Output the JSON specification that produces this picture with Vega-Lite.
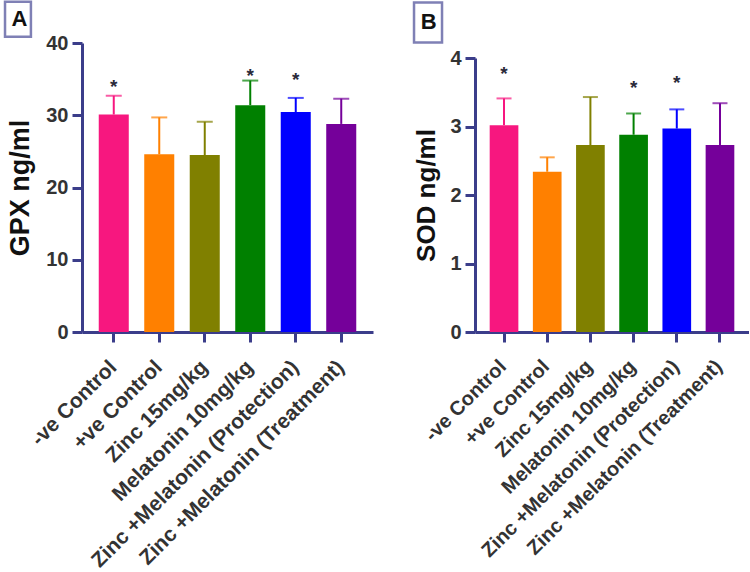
{
  "$schema": "https://vega.github.io/schema/vega-lite/v6.json",
  "padding": {"left": 0, "top": -4, "right": 0, "bottom": 0},
  "spacing": 36,
  "align": "none",
  "background": "white",
  "config": {
    "view": {"stroke": null},
    "font": "Liberation Sans",
    "axis": {
      "grid": false,
      "domainColor": "#3b3d8a",
      "tickColor": "#3b3d8a",
      "domainWidth": 3,
      "tickWidth": 3,
      "tickSize": 10,
      "labelFont": "Liberation Sans",
      "labelFontWeight": "bold",
      "labelColor": "#333333",
      "labelLimit": 0,
      "titleFont": "Liberation Sans",
      "titleFontWeight": "bold",
      "titleColor": "#111111"
    }
  },
  "datasets": {
    "gpx": [
      {"group": "-ve Control", "mean": 30.1, "upper": 32.7, "star": 33.9},
      {"group": "+ve Control", "mean": 24.6, "upper": 29.7, "star": null},
      {"group": "Zinc 15mg/kg", "mean": 24.5, "upper": 29.1, "star": null},
      {"group": "Melatonin 10mg/kg", "mean": 31.4, "upper": 34.8, "star": 35.5},
      {"group": "Zinc +Melatonin (Protection)", "mean": 30.45, "upper": 32.4, "star": 34.9},
      {"group": "Zinc +Melatonin (Treatment)", "mean": 28.8, "upper": 32.3, "star": null}
    ],
    "sod": [
      {"group": "-ve Control", "mean": 3.02, "upper": 3.41, "star": 3.76},
      {"group": "+ve Control", "mean": 2.34, "upper": 2.55, "star": null},
      {"group": "Zinc 15mg/kg", "mean": 2.73, "upper": 3.43, "star": null},
      {"group": "Melatonin 10mg/kg", "mean": 2.88, "upper": 3.19, "star": 3.56},
      {"group": "Zinc +Melatonin (Protection)", "mean": 2.97, "upper": 3.25, "star": 3.64},
      {"group": "Zinc +Melatonin (Treatment)", "mean": 2.73, "upper": 3.34, "star": null}
    ],
    "labelA": [{"label": "A", "group": "-ve Control", "pos": 43.3}],
    "labelB": [{"label": "B", "group": "-ve Control", "pos": 4.52}]
  },
  "hconcat": [
    {
      "width": 291,
      "height": 289,
      "encoding": {
        "x": {
          "field": "group", "type": "nominal", "sort": null,
          "scale": {"paddingInner": 0.34, "paddingOuter": 0.368},
          "axis": {"title": null, "labelAngle": -45, "labelFontSize": 21, "labelPadding": 14, "labelOffset": -8}
        }
      },
      "layer": [
        {
          "data": {"name": "gpx"},
          "mark": {"type": "bar"},
          "encoding": {
            "y": {"field": "mean", "type": "quantitative", "scale": {"domain": [0, 40]},
                  "axis": {"title": "GPX ng/ml", "values": [0, 10, 20, 30, 40], "format": "d", "labelFontSize": 20, "titleFontSize": 27, "titlePadding": 11, "labelPadding": 4}},
            "color": {"field": "group", "type": "nominal", "sort": null, "legend": null,
              "scale": {"domain": ["-ve Control", "+ve Control", "Zinc 15mg/kg", "Melatonin 10mg/kg", "Zinc +Melatonin (Protection)", "Zinc +Melatonin (Treatment)"],
                        "range": ["#f7177f", "#ff8000", "#808000", "#008000", "#0000ff", "#75009a"]}}
          }
        },
        {
          "data": {"name": "gpx"},
          "mark": {"type": "rule", "strokeWidth": 2},
          "encoding": {
            "y": {"field": "mean", "type": "quantitative"},
            "y2": {"field": "upper"},
            "color": {"field": "group", "type": "nominal", "sort": null, "legend": null}
          }
        },
        {
          "data": {"name": "gpx"},
          "mark": {"type": "tick", "thickness": 2, "size": 16},
          "encoding": {
            "y": {"field": "upper", "type": "quantitative"},
            "color": {"field": "group", "type": "nominal", "sort": null, "legend": null}
          }
        },
        {
          "data": {"name": "gpx"},
          "transform": [{"filter": "datum.star != null"}],
          "mark": {"type": "text", "text": "*", "fontSize": 19, "fontWeight": "bold", "color": "#2a2a3a", "baseline": "middle"},
          "encoding": {
            "y": {"field": "star", "type": "quantitative"}
          }
        },
        {
          "data": {"name": "labelA"},
          "mark": {"type": "point", "shape": "M-0.74,-1H0.74V1H-0.74Z", "filled": false, "stroke": "#7f80b5", "strokeWidth": 2.5, "size": 1225, "opacity": 1},
          "encoding": {
            "x": {"field": "group", "type": "nominal", "bandPosition": -2.69},
            "y": {"field": "pos", "type": "quantitative"}
          }
        },
        {
          "data": {"name": "labelA"},
          "mark": {"type": "text", "fontSize": 22, "fontWeight": "bold", "color": "#111111", "baseline": "middle", "align": "center"},
          "encoding": {
            "x": {"field": "group", "type": "nominal", "bandPosition": -2.64},
            "y": {"field": "pos", "type": "quantitative"},
            "text": {"field": "label"}
          }
        }
      ]
    },
    {
      "width": 274,
      "height": 289,
      "encoding": {
        "x": {
          "field": "group", "type": "nominal", "sort": null,
          "scale": {"paddingInner": 0.336, "paddingOuter": 0.34},
          "axis": {"title": null, "labelAngle": -45, "labelFontSize": 20, "labelPadding": 14, "labelOffset": -8}
        }
      },
      "layer": [
        {
          "data": {"name": "sod"},
          "mark": {"type": "bar"},
          "encoding": {
            "y": {"field": "mean", "type": "quantitative", "scale": {"domain": [0, 4], "range": [289, 15]},
                  "axis": {"title": "SOD ng/ml", "values": [0, 1, 2, 3, 4], "format": "d", "labelFontSize": 20, "titleFontSize": 26, "titlePadding": 10, "labelPadding": 4}},
            "color": {"field": "group", "type": "nominal", "sort": null, "legend": null,
              "scale": {"domain": ["-ve Control", "+ve Control", "Zinc 15mg/kg", "Melatonin 10mg/kg", "Zinc +Melatonin (Protection)", "Zinc +Melatonin (Treatment)"],
                        "range": ["#f7177f", "#ff8000", "#808000", "#008000", "#0000ff", "#75009a"]}}
          }
        },
        {
          "data": {"name": "sod"},
          "mark": {"type": "rule", "strokeWidth": 2},
          "encoding": {
            "y": {"field": "mean", "type": "quantitative"},
            "y2": {"field": "upper"},
            "color": {"field": "group", "type": "nominal", "sort": null, "legend": null}
          }
        },
        {
          "data": {"name": "sod"},
          "mark": {"type": "tick", "thickness": 2, "size": 15},
          "encoding": {
            "y": {"field": "upper", "type": "quantitative"},
            "color": {"field": "group", "type": "nominal", "sort": null, "legend": null}
          }
        },
        {
          "data": {"name": "sod"},
          "transform": [{"filter": "datum.star != null"}],
          "mark": {"type": "text", "text": "*", "fontSize": 19, "fontWeight": "bold", "color": "#2a2a3a", "baseline": "middle"},
          "encoding": {
            "y": {"field": "star", "type": "quantitative"}
          }
        },
        {
          "data": {"name": "labelB"},
          "mark": {"type": "point", "shape": "M-0.7,-1H0.7V1H-0.7Z", "filled": false, "stroke": "#7f80b5", "strokeWidth": 2.5, "size": 1600, "opacity": 1},
          "encoding": {
            "x": {"field": "group", "type": "nominal", "bandPosition": -2.15},
            "y": {"field": "pos", "type": "quantitative"}
          }
        },
        {
          "data": {"name": "labelB"},
          "mark": {"type": "text", "fontSize": 22, "fontWeight": "bold", "color": "#111111", "baseline": "middle", "align": "center"},
          "encoding": {
            "x": {"field": "group", "type": "nominal", "bandPosition": -2.13},
            "y": {"field": "pos", "type": "quantitative"},
            "text": {"field": "label"}
          }
        }
      ]
    }
  ]
}
